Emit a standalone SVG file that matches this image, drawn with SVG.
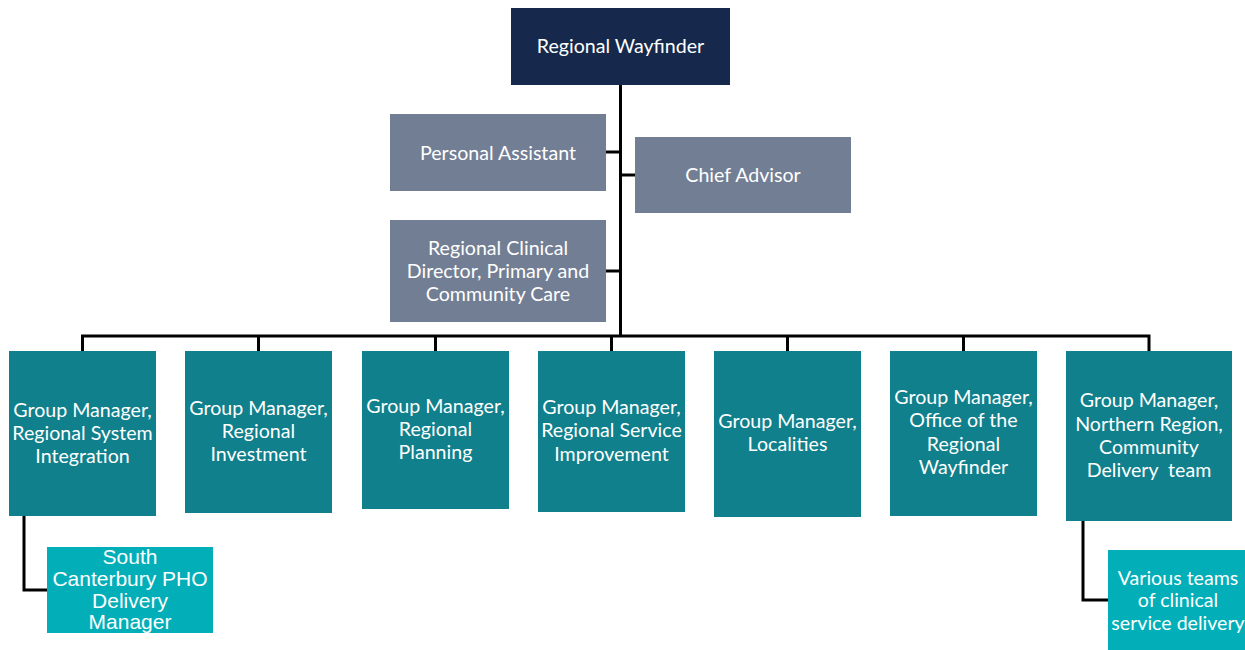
<svg xmlns="http://www.w3.org/2000/svg" width="1245" height="650" viewBox="0 0 1245 650">
<style>
.t{font-family:Lato,"Open Sans","Noto Sans",sans-serif;font-size:19.6px;fill:#ffffff;text-anchor:middle}
.a{font-family:"Liberation Sans",Arial,sans-serif;font-size:21px;fill:#ffffff;text-anchor:middle}
.navy{fill:#16294c}
.gray{fill:#727e94}
.teal{fill:#0f808c}
.lt{fill:#02afb9}
.c{fill:none;stroke:#000000;stroke-width:3}
</style>
<rect width="1245" height="650" fill="#ffffff"/>
<g id="connectors">
<path class="c" d="M620.5 84 V336"/>
<path class="c" d="M606 152 H620.5"/>
<path class="c" d="M620.5 175 H635"/>
<path class="c" d="M606 271 H620.5"/>
<path class="c" d="M82.5 351 V336 H1149 V351"/>
<path class="c" d="M258.5 336 V351"/>
<path class="c" d="M435.5 336 V351"/>
<path class="c" d="M611.5 336 V351"/>
<path class="c" d="M787.5 336 V351"/>
<path class="c" d="M963.5 336 V351"/>
<path class="c" d="M24 516 V590 H47"/>
<path class="c" d="M1083 521 V600 H1108"/>
</g>
<g id="regional-wayfinder">
<rect class="navy" x="511" y="8" width="219" height="77"/>
<text class="t" x="620.5" y="53">Regional Wayfinder</text>
</g>
<g id="personal-assistant">
<rect class="gray" x="390" y="114" width="216" height="77"/>
<text class="t" x="498" y="160">Personal Assistant</text>
</g>
<g id="chief-advisor">
<rect class="gray" x="635" y="137" width="216" height="76"/>
<text class="t" x="743" y="182">Chief Advisor</text>
</g>
<g id="clinical-director">
<rect class="gray" x="390" y="220" width="216" height="102"/>
<text class="t" x="498" y="255">Regional Clinical</text>
<text class="t" x="498" y="278">Director, Primary and</text>
<text class="t" x="498" y="301">Community Care</text>
</g>
<g id="gm-system-integration">
<rect class="teal" x="9" y="351" width="147" height="165"/>
<text class="t" x="82.5" y="417">Group Manager,</text>
<text class="t" x="82.5" y="440">Regional System</text>
<text class="t" x="82.5" y="463">Integration</text>
</g>
<g id="gm-investment">
<rect class="teal" x="185" y="351" width="147" height="162"/>
<text class="t" x="258.5" y="415">Group Manager,</text>
<text class="t" x="258.5" y="438">Regional</text>
<text class="t" x="258.5" y="461">Investment</text>
</g>
<g id="gm-planning">
<rect class="teal" x="362" y="351" width="147" height="158"/>
<text class="t" x="435.5" y="413">Group Manager,</text>
<text class="t" x="435.5" y="436">Regional</text>
<text class="t" x="435.5" y="459">Planning</text>
</g>
<g id="gm-service-improvement">
<rect class="teal" x="538" y="351" width="147" height="161"/>
<text class="t" x="611.5" y="414">Group Manager,</text>
<text class="t" x="611.5" y="437">Regional Service</text>
<text class="t" x="611.5" y="461">Improvement</text>
</g>
<g id="gm-localities">
<rect class="teal" x="714" y="351" width="147" height="166"/>
<text class="t" x="787.5" y="428">Group Manager,</text>
<text class="t" x="787.5" y="451">Localities</text>
</g>
<g id="gm-office">
<rect class="teal" x="890" y="351" width="147" height="165"/>
<text class="t" x="963.5" y="404">Group Manager,</text>
<text class="t" x="963.5" y="427">Office of the</text>
<text class="t" x="963.5" y="451">Regional</text>
<text class="t" x="963.5" y="474">Wayfinder</text>
</g>
<g id="gm-northern">
<rect class="teal" x="1066" y="351" width="166" height="170"/>
<text class="t" x="1149" y="407">Group Manager,</text>
<text class="t" x="1149" y="431">Northern Region,</text>
<text class="t" x="1149" y="454">Community</text>
<text class="t" x="1149" y="477" xml:space="preserve">Delivery  team</text>
</g>
<g id="south-canterbury">
<rect class="lt" x="47" y="547" width="166" height="86"/>
<text class="a" x="130" y="564">South</text>
<text class="a" x="130" y="586">Canterbury PHO</text>
<text class="a" x="130" y="608">Delivery</text>
<text class="a" x="130" y="629">Manager</text>
</g>
<g id="various-teams">
<rect class="lt" x="1108" y="550" width="137" height="100"/>
<text class="t" x="1178" y="585">Various teams</text>
<text class="t" x="1178" y="607">of clinical</text>
<text class="t" x="1178" y="630">service delivery</text>
</g>
</svg>
